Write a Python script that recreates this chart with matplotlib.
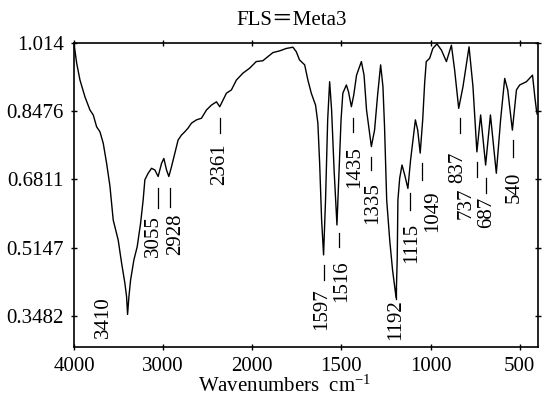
import numpy as np
import matplotlib
matplotlib.use("Agg")
import matplotlib.pyplot as plt

plt.rcParams['font.family'] = ['Liberation Serif', 'Noto Sans CJK SC', 'DejaVu Sans']
plt.rcParams['mathtext.fontset'] = 'custom'
plt.rcParams['mathtext.rm'] = 'Liberation Serif'
plt.rcParams['mathtext.it'] = 'Liberation Serif:italic'

# ---- data ----
wavenumber = [4000, 3970, 3933, 3877, 3821, 3784, 3746, 3709, 3672, 3634, 3597, 3560, 3504, 3466,
              3429, 3410, 3399, 3384, 3365, 3328, 3291, 3253, 3224, 3205, 3168, 3130, 3093, 3056,
              3018, 2992, 2962, 2936, 2906, 2869, 2832, 2794, 2757, 2720, 2682, 2626, 2570, 2514,
              2458, 2402, 2365, 2328, 2290, 2234, 2178, 2104, 2029, 1978, 1941, 1912, 1884, 1847,
              1809, 1772, 1753, 1735, 1706, 1688, 1669, 1645, 1632, 1622, 1611, 1600, 1589, 1577,
              1566, 1555, 1541, 1525, 1513, 1502, 1492, 1472, 1460, 1444, 1431, 1415, 1388, 1373,
              1359, 1332, 1314, 1297, 1280, 1267, 1258, 1246, 1229, 1213, 1193, 1187, 1183, 1173,
              1160, 1145, 1127, 1112, 1085, 1072, 1058, 1044, 1033, 1024, 1005, 987, 964, 939,
              911, 883, 865, 842, 818, 784, 762, 740, 719, 691, 664, 631, 607, 584, 567, 541,
              518, 500, 462, 428, 415, 406, 402]
transmittance = [1.012, 0.964, 0.923, 0.882, 0.850, 0.838, 0.809, 0.797, 0.769, 0.720, 0.665, 0.582,
                 0.533, 0.477, 0.428, 0.395, 0.352, 0.395, 0.436, 0.485, 0.517, 0.574, 0.631, 0.680,
                 0.696, 0.708, 0.704, 0.688, 0.720, 0.732, 0.704, 0.688, 0.712, 0.745, 0.777, 0.789,
                 0.797, 0.806, 0.818, 0.826, 0.830, 0.850, 0.862, 0.870, 0.858, 0.874, 0.891, 0.899,
                 0.923, 0.940, 0.952, 0.968, 0.970, 0.980, 0.990, 0.994, 1.000, 1.003, 0.992, 0.972,
                 0.960, 0.923, 0.891, 0.862, 0.818, 0.720, 0.582, 0.497, 0.631, 0.826, 0.919, 0.850,
                 0.704, 0.570, 0.704, 0.826, 0.891, 0.911, 0.894, 0.858, 0.886, 0.935, 0.968, 0.935,
                 0.850, 0.761, 0.801, 0.886, 0.960, 0.907, 0.809, 0.631, 0.533, 0.460, 0.392, 0.485,
                 0.631, 0.684, 0.716, 0.692, 0.659, 0.728, 0.826, 0.801, 0.745, 0.826, 0.916, 0.968,
                 0.976, 1.000, 1.011, 0.996, 0.968, 1.008, 0.948, 0.854, 0.907, 1.004, 0.907, 0.748,
                 0.838, 0.716, 0.838, 0.696, 0.826, 0.927, 0.899, 0.801, 0.899, 0.911, 0.919, 0.935,
                 0.882, 0.850, 0.840]

xticks = [4000, 3000, 2000, 1500, 1000, 500]
yticks = [1.014, 0.8476, 0.6811, 0.5147, 0.3482]
ytick_labels = ['1.014', '0.8476', '0.6811', '0.5147', '0.3482']

peak_labels = ['3410', '3055', '2928', '2361', '1597', '1516', '1435', '1335', '1192',
               '1115', '1049', '837', '737', '687', '540']
label_x = [3672, 3108, 2862, 2362, 1612, 1500, 1427, 1323, 1194, 1107, 987, 846, 802, 688, 532]
label_y = [0.295, 0.492, 0.497, 0.667, 0.314, 0.382, 0.660, 0.572, 0.290, 0.477, 0.553,
           0.672, 0.584, 0.562, 0.624]
marker_top = [np.nan, 0.660, 0.660, 0.831, 0.4725, 0.550, 0.831, 0.7355, 0.416, 0.648, 0.721,
              0.831, 0.723, 0.684, 0.777]
marker_bottom = [np.nan, 0.611, 0.613, 0.794, 0.436, 0.516, 0.797, 0.704, 0.389, 0.606, 0.680,
                 0.794, 0.687, 0.648, 0.736]


def fwd(w):
    w = np.asarray(w, dtype=float)
    return np.where(w > 2000, 2000 + (w - 2000) / 2.0, w)


def inv(f):
    f = np.asarray(f, dtype=float)
    return np.where(f > 2000, 2000 + (f - 2000) * 2.0, f)


FS = 15
fig = plt.figure(figsize=(5.53, 4.05), dpi=100)
ax = fig.add_axes([74 / 553, 1 - 346.7 / 405, (537.5 - 74) / 553, (346.7 - 42.7) / 405])
ax.set_xscale('function', functions=(fwd, inv))
ax.plot(wavenumber, transmittance, color='black', lw=1.0)
ax.set_xlim(4000, 400)
ax.set_ylim(0.2734, 1.014)

ax.set_xticks(xticks)
ax.set_xticklabels([str(t) for t in xticks])
ax.set_yticks(yticks)
ax.set_yticklabels(ytick_labels)
ax.minorticks_off()
ax.tick_params(axis='both', which='major', direction='inout', length=4, width=1.0,
               top=True, right=True, labelsize=FS, pad=5.2, colors='black')
for s in ax.spines.values():
    s.set_linewidth(1.2)

for lab, lx, ly, mt, mb in zip(peak_labels, label_x, label_y, marker_top, marker_bottom):
    ax.text(lx, ly, lab, rotation=90, ha='center', va='bottom', fontsize=FS,
            linespacing=1.0)
    if not np.isnan(mt):
        pk = float(lab)
        ax.plot([pk, pk], [mb, mt], color='black', lw=0.9)

fig.text(291.7 / 553, 1 - 25 / 405, 'FLS＝Meta3', ha='center', va='baseline', fontsize=FS)
fig.text(198 / 553, 1 - 392 / 405, 'Wavenumbers  cm$^{-1}$', ha='left', va='baseline', fontsize=FS)

fig.savefig('out.png', dpi=100)
